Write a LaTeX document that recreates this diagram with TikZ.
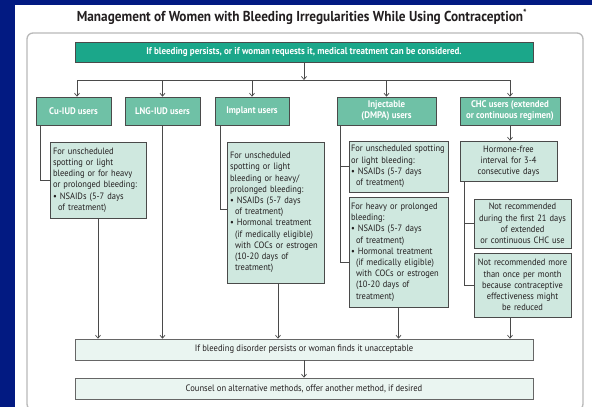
\documentclass[tikz,border=0pt]{standalone}
\usepackage{fontspec}
\setmainfont{PT Sans}[FakeStretch=0.92]
\usetikzlibrary{arrows.meta}
\definecolor{navybg}{RGB}{2,26,130}
\definecolor{topgreen}{HTML}{1BA78A}
\definecolor{hdrgreen}{HTML}{6FC1A6}
\definecolor{detfill}{HTML}{CFE8DF}
\definecolor{botfill}{HTML}{EAF5F1}
\definecolor{boxline}{HTML}{4A4A4A}
\definecolor{txt}{HTML}{231F20}
\hyphenpenalty=10000
\exhyphenpenalty=10000
\begin{document}
\begin{tikzpicture}[x=1pt,y=-1pt,
  topbar/.style={draw=boxline, fill=topgreen, text=white, font=\bfseries\fontsize{9.8}{11}\selectfont, inner sep=0pt, line width=0.6pt},
  hdr/.style={draw=boxline, fill=hdrgreen, text=white, font=\bfseries\fontsize{9.6}{11}\selectfont, inner sep=0pt, align=center, line width=0.6pt},
  detail/.style={draw=boxline, fill=detfill, text=txt, font=\fontsize{9.2}{11.2}\selectfont, inner xsep=3pt, inner ysep=0pt, align=left, line width=0.6pt},
  detailc/.style={detail, align=center},
  botbox/.style={draw=gray!80!black, fill=botfill, text=txt, font=\fontsize{9.3}{11}\selectfont, inner sep=0pt, line width=0.6pt},
  conn/.style={draw=boxline, line width=0.7pt},
  arr/.style={conn, -{Straight Barb[length=3pt,width=5pt,line width=0.7pt]}}]
\useasboundingbox (0,0) rectangle (592,407);
\fill[navybg] (0,0) rectangle (592,407);
\fill[white] (15,5) rectangle (592,407);
\draw[gray!55, line width=1.3pt, rounded corners=6pt] (27,33) rectangle (583,410);

\node[text=txt, font=\bfseries\fontsize{14.4}{16}\selectfont] (title) at (302,17) {Management of Women with Bleeding Irregularities While Using Contraception\textsuperscript{*}};

\node[topbar, minimum width=458, minimum height=20] (top) at (304,52) {If bleeding persists, or if woman requests it, medical treatment can be considered.};

\node[hdr, minimum width=75, minimum height=28] (cuh) at (73.5,111) {Cu-IUD users};
\node[hdr, minimum width=75, minimum height=28] (lngh) at (162.5,111) {LNG-IUD users};
\node[hdr, minimum width=74, minimum height=28] (imph) at (252,111) {Implant users};
\node[hdr, minimum width=99, minimum height=28] (injh) at (386.5,111) {Injectable\\(DMPA) users};
\node[hdr, minimum width=100, minimum height=28] (chch) at (510,111) {CHC users (extended\\or continuous regimen)};

\node[detail, text width=90, minimum height=76] (cud) at (98,180) {For unscheduled\\spotting or light\\bleeding or for heavy\\or prolonged bleeding:\\\textbullet\ NSAIDs (5-7 days\\\hspace*{5pt}of treatment)};
\node[detail, text width=91, minimum height=141] (impd) at (275.5,212.5) {For unscheduled\\spotting or light\\bleeding or heavy/\\prolonged bleeding:\\\textbullet\ NSAIDs (5-7 days\\\hspace*{5pt}of treatment)\\\textbullet\ Hormonal treatment\\\hspace*{5pt}(if medically eligible)\\\hspace*{5pt}with COCs or estrogen\\\hspace*{5pt}(10-20 days of\\\hspace*{5pt}treatment)};
\node[detail, inner xsep=2pt, text width=95, minimum height=51] (inj1) at (398.5,166.5) {For unscheduled spotting\\or light bleeding:\\\textbullet\ NSAIDs (5-7 days\\\hspace*{5pt}of treatment)};
\node[detail, inner xsep=2pt, text width=95, minimum height=110] (inj2) at (398.5,252) {For heavy or prolonged\\bleeding:\\\textbullet\ NSAIDs (5-7 days\\\hspace*{5pt}of treatment)\\\textbullet\ Hormonal treatment\\\hspace*{5pt}(if medically eligible)\\\hspace*{5pt}with COCs or estrogen\\\hspace*{5pt}(10-20 days of\\\hspace*{5pt}treatment)};
\node[detailc, text width=91, minimum height=40] (horm) at (508.5,161) {Hormone-free\\interval for 3-4\\consecutive days};
\node[detailc, text width=91, minimum height=49] (nr1) at (522.5,223.5) {Not recommended\\during the first 21 days\\of extended\\or continuous CHC use};
\node[detailc, text width=91, minimum height=64] (nr2) at (522.5,285) {Not recommended more\\than once per month\\because contraceptive\\effectiveness might\\be reduced};

\node[botbox, minimum width=458, minimum height=21] (b1) at (304,349.5) {If bleeding disorder persists or woman finds it unacceptable};
\node[botbox, minimum width=458, minimum height=21] (b2) at (304,388.5) {Counsel on alternative methods, offer another method, if desired};

% distribution bus
\coordinate (busL) at (77,80);
\coordinate (busR) at (510,80);
\draw[arr] (top.south) -- (top.south |- busL);
\draw[conn] (busL) -- (busR);
\draw[arr] (busL) -- (busL |- cuh.north);
\draw[arr] (busL -| lngh.north) -- (lngh.north);
\draw[arr] (busL -| imph.north) -- (imph.north);
\draw[arr] (busL -| injh.north) -- (injh.north);
\draw[arr] (busR) -- (busR |- chch.north);

% Cu-IUD
\draw[conn] ([xshift=5pt]cuh.south west) |- (cud.west);
\draw[arr] (cud.south) -- (cud.south |- b1.north);
% LNG-IUD
\draw[arr] (lngh.south) -- (lngh.south |- b1.north);
% Implant
\draw[conn] ([xshift=6pt]imph.south west) |- ([yshift=3.5pt]impd.west);
\draw[arr] ([xshift=2.5pt]impd.south) -- ([xshift=2.5pt]impd.south |- b1.north);
% Injectable
\draw[conn] ([xshift=4pt]injh.south west) |- ([yshift=-10pt]inj2.west);
\draw[conn] ([xshift=4pt]injh.south west |- inj1.west) -- (inj1.west);
\draw[arr] (inj2.south) -- (inj2.south |- b1.north);
% CHC
\draw[arr] (chch.south) -- (chch.south |- horm.north);
\draw[conn] ([xshift=5pt]horm.south west) |- (nr2.west);
\draw[conn] ([xshift=5pt]horm.south west |- nr1.west) -- (nr1.west);
\draw[arr] (nr2.south -| chch.south) -- (chch.south |- b1.north);
% bottom
\draw[arr] (b1.south) -- (b2.north);
\end{tikzpicture}
\end{document}
